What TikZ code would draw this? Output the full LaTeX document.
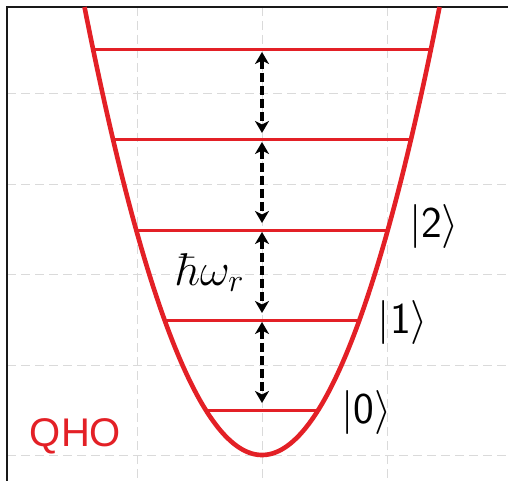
\RequirePackage{fix-cm}
\documentclass[tikz,border=0pt]{standalone}
\usepackage{fontspec}
\newfontfamily\qhofont{Liberation Sans}
\usetikzlibrary{arrows.meta}
\definecolor{qred}{RGB}{227,32,38}
\definecolor{gridgray}{RGB}{218,218,218}
\tikzset{
  gridline/.style={draw=gridgray, line width=1pt, dash pattern=on 9pt off 5pt},
  frameline/.style={draw=black!90, line width=2.2pt},
  well/.style={draw=qred, line width=4.6pt},
  level/.style={draw=qred, line width=3pt},
  gap/.style={draw=black, line width=4pt, dash pattern=on 9pt off 4pt,
    {Stealth[length=12pt,width=14pt,inset=3.5pt]}-{Stealth[length=12pt,width=14pt,inset=3.5pt]}},
  ket/.style={font=\fontsize{44}{50}\selectfont, inner sep=0pt, anchor=center},
}
\begin{document}
\begin{tikzpicture}[x=1pt,y=-1pt]
\useasboundingbox (0,0) rectangle (508,481);
\fill[white] (0,0) rectangle (508,481);
\begin{scope}
\clip (0,0) rectangle (508,481);
% grid
\foreach \gx in {137,262,387} \draw[gridline] (\gx,7) -- (\gx,481);
\foreach \gy in {94,184,274,365,455} \draw[gridline] (7,\gy) -- (508,\gy);
% frame (left and top edges)
\draw[frameline] (7,481) -- (7,7) -- (508,7);
% levels
\coordinate (l4a) at (93.2,50);  \coordinate (l4b) at (430.8,50);
\coordinate (l3a) at (113.2,140); \coordinate (l3b) at (410.8,140);
\coordinate (l2a) at (136.2,230); \coordinate (l2b) at (387.8,230);
\coordinate (l1a) at (164.6,320); \coordinate (l1b) at (359.4,320);
\coordinate (l0a) at (205.7,410); \coordinate (l0b) at (318.3,410);
\foreach \n in {0,...,4} \draw[level] (l\n a) -- (l\n b);
% well
\draw[well] plot[domain=-177.5:177.5, samples=120, smooth] ({262+\x}, {455-1.4219*(\x/10)*(\x/10)});
% spacing arrows
\coordinate (a4t) at (262,52);  \coordinate (a4b) at (262,133);
\coordinate (a3t) at (262,142); \coordinate (a3b) at (262,223);
\coordinate (a2t) at (262,232); \coordinate (a2b) at (262,313);
\coordinate (a1t) at (262,322); \coordinate (a1b) at (262,403);
\foreach \n in {1,...,4} \draw[gap] (a\n t) -- (a\n b);
\end{scope}
% labels
\node[ket] (k2) at (434,226.5) {$|\mathsf{2}\rangle$};
\node[ket] (k1) at (403,322.5) {$|\mathsf{1}\rangle$};
\node[ket] (k0) at (366.5,412.5) {$|\mathsf{0}\rangle$};
\node[font=\fontsize{46}{52}\selectfont, inner sep=0pt, anchor=base] (hw) at (210,285) {$\hbar\omega_r$};
\node[font=\qhofont\fontsize{40}{46}\selectfont, text=qred, inner sep=0pt, anchor=base] (qho) at (75.5,446) {QHO};
\end{tikzpicture}
\end{document}
